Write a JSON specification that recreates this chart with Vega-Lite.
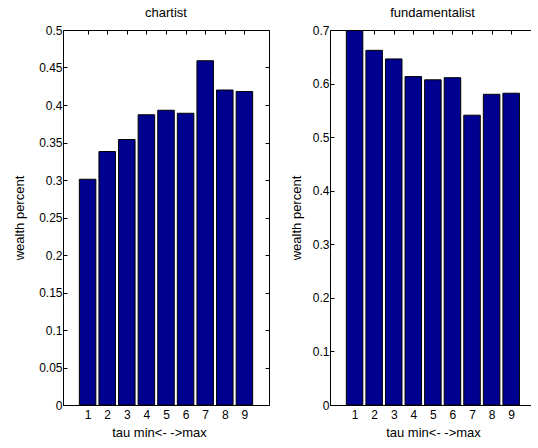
{
  "$schema": "https://vega.github.io/schema/vega-lite/v6.json",
  "padding": {"left": 13, "top": 6, "right": 0, "bottom": 4},
  "background": "white",
  "config": {
    "font": "Liberation Sans",
    "view": {"stroke": "black", "strokeWidth": 1},
    "axis": {"domain": false, "grid": false, "tickColor": "black", "tickSize": -4, "tickWidth": 1, "labelColor": "black", "labelFontSize": 12, "titleFontSize": 13, "titleFontWeight": "normal", "titleColor": "black", "labelFont": "Liberation Sans", "titleFont": "Liberation Sans"},
    "title": {"fontSize": 13, "fontWeight": "normal", "font": "Liberation Sans", "color": "black", "offset": 4},
    "concat": {"spacing": 20}
  },
  "datasets": {
    "chartist": [
      {"tau": 1, "wealth": 0.301}, {"tau": 2, "wealth": 0.338}, {"tau": 3, "wealth": 0.354},
      {"tau": 4, "wealth": 0.387}, {"tau": 5, "wealth": 0.393}, {"tau": 6, "wealth": 0.389},
      {"tau": 7, "wealth": 0.459}, {"tau": 8, "wealth": 0.420}, {"tau": 9, "wealth": 0.418}
    ],
    "fundamentalist": [
      {"tau": 1, "wealth": 0.699}, {"tau": 2, "wealth": 0.662}, {"tau": 3, "wealth": 0.646},
      {"tau": 4, "wealth": 0.613}, {"tau": 5, "wealth": 0.607}, {"tau": 6, "wealth": 0.611},
      {"tau": 7, "wealth": 0.541}, {"tau": 8, "wealth": 0.580}, {"tau": 9, "wealth": 0.582}
    ]
  },
  "hconcat": [
    {
      "width": 206, "height": 375,
      "title": "chartist",
      "data": {"name": "chartist"},
      "layer": [
        {
          "mark": {"type": "bar", "color": "#000090", "stroke": "black", "strokeWidth": 1, "width": 16.5},
          "encoding": {
            "x": {"field": "tau", "type": "quantitative", "scale": {"domain": [0, 10], "nice": false, "zero": false},
                  "axis": {"values": [1, 2, 3, 4, 5, 6, 7, 8, 9], "title": "tau min<- ->max", "titleX": 96, "labelPadding": 8, "titlePadding": 6}},
            "y": {"field": "wealth", "type": "quantitative", "scale": {"domain": [0, 0.5], "nice": false},
                  "axis": {"values": [0, 0.05, 0.1, 0.15, 0.2, 0.25, 0.3, 0.35, 0.4, 0.45, 0.5], "format": "~g", "title": "wealth percent", "labelPadding": 5, "titlePadding": 12}}
          }
        },
        {
          "mark": {"type": "bar", "opacity": 0, "width": 16.5},
          "encoding": {
            "x": {"field": "tau", "type": "quantitative", "axis": {"orient": "top", "values": [1, 2, 3, 4, 5, 6, 7, 8, 9], "labels": false, "title": null}},
            "y": {"field": "wealth", "type": "quantitative", "axis": {"orient": "right", "values": [0, 0.05, 0.1, 0.15, 0.2, 0.25, 0.3, 0.35, 0.4, 0.45, 0.5], "labels": false, "title": null}}
          }
        }
      ],
      "resolve": {"axis": {"x": "independent", "y": "independent"}}
    },
    {
      "width": 201, "height": 375,
      "title": {"text": "fundamentalist", "anchor": "middle", "dx": 2},
      "data": {"name": "fundamentalist"},
      "view": {"stroke": null},
      "layer": [
        {
          "mark": {"type": "bar", "color": "#000090", "stroke": "black", "strokeWidth": 1, "width": 16.5},
          "encoding": {
            "x": {"field": "tau", "type": "quantitative", "scale": {"domain": [0, 9.757], "nice": false, "zero": false},
                  "axis": {"values": [1, 2, 3, 4, 5, 6, 7, 8, 9], "title": "tau min<- ->max", "titleX": 103, "labelPadding": 8, "titlePadding": 6, "domain": true, "domainColor": "black"}},
            "y": {"field": "wealth", "type": "quantitative", "scale": {"domain": [0, 0.7], "nice": false},
                  "axis": {"values": [0, 0.1, 0.2, 0.3, 0.4, 0.5, 0.6, 0.7], "format": "~g", "title": "wealth percent", "labelPadding": 5, "titlePadding": 9, "domain": true, "domainColor": "black"}}
          }
        },
        {
          "mark": {"type": "bar", "opacity": 0, "width": 16.5},
          "encoding": {
            "x": {"field": "tau", "type": "quantitative", "axis": {"orient": "top", "values": [1, 2, 3, 4, 5, 6, 7, 8, 9], "labels": false, "title": null, "domain": true, "domainColor": "black"}},
            "y": {"field": "wealth", "type": "quantitative"}
          }
        }
      ],
      "resolve": {"axis": {"x": "independent", "y": "shared"}}
    }
  ]
}
